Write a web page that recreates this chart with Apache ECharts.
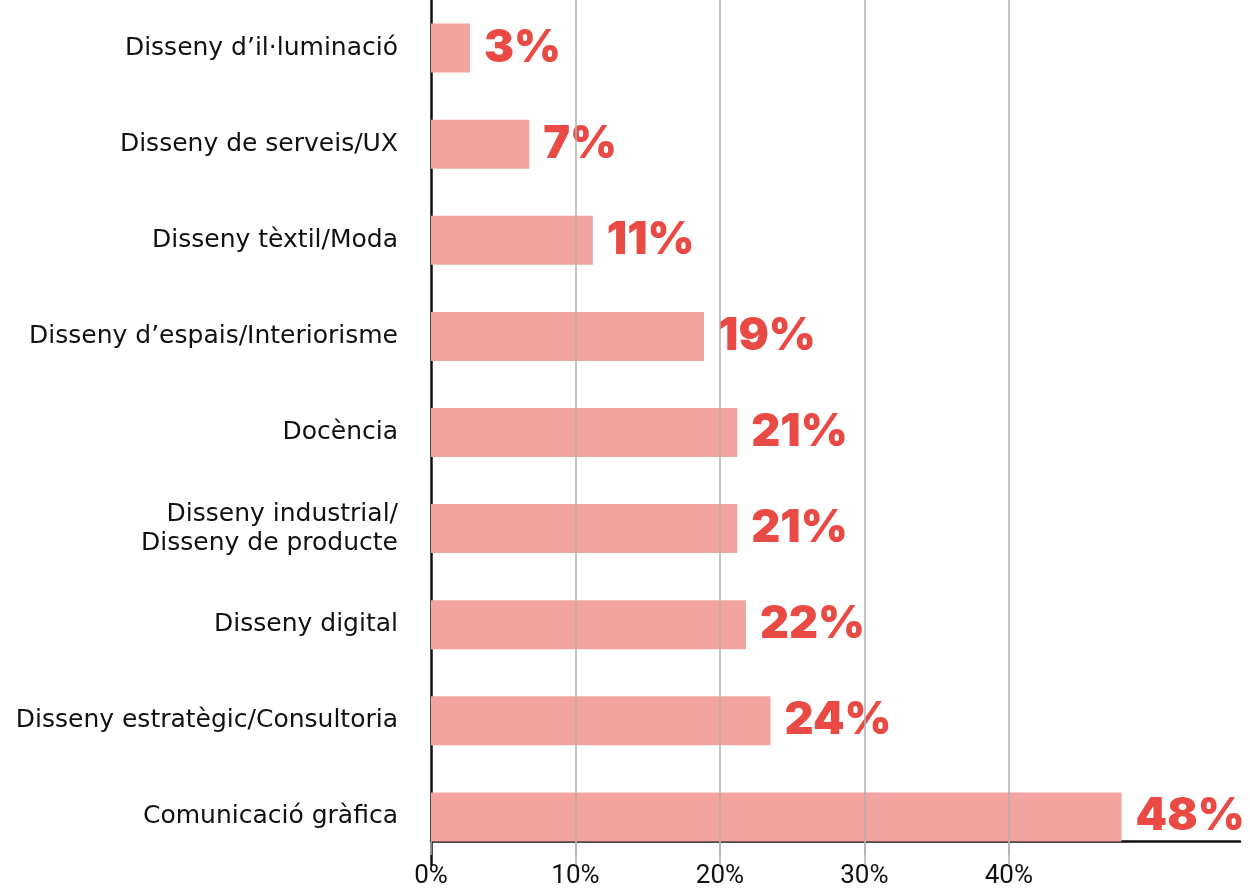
<!DOCTYPE html>
<html>
<head>
<meta charset="utf-8">
<script src="https://cdn.jsdelivr.net/npm/echarts@6/dist/echarts.min.js"></script>
<style>
   html, body { margin: 0; padding: 0; background: #ffffff; }
   #chart { width: 1250px; height: 890px; }
</style>
</head>
<body>
<div id="chart"></div>
<script>

// categories, top to bottom
const categories = [
   'Disseny d\u2019il\u00b7luminaci\u00f3',
   'Disseny de serveis/UX',
   'Disseny t\u00e8xtil/Moda',
   'Disseny d\u2019espais/Interiorisme',
   'Doc\u00e8ncia',
   'Disseny industrial/\nDisseny de producte',
   'Disseny digital',
   'Disseny estrat\u00e8gic/Consultoria',
   'Comunicaci\u00f3 gr\u00e0fica'
];

// bar lengths (percent)
const values = [2.7, 6.8, 11.2, 18.9, 21.2, 21.2, 21.8, 23.5, 47.8];

// rounded labels as printed
const valueLabels = ['3%', '7%', '11%', '19%', '21%', '21%', '22%', '24%', '48%'];

// x ticks shown
const xTicks = [0, 10, 20, 30, 40];
const gridTicks = [10, 20, 30, 40];

const barColor = '#f3a4a0';
const labelColor = '#e94a43';

const chart = echarts.init(document.getElementById('chart'));

const option =
{
   animation: false,
   grid:
   {
      left: 431,
      right: 10,
      top: 0,
      height: 865,
      containLabel: false
   },
   xAxis:
   {
      type: 'value',
      min: 0,
      max: 56,
      interval: 10,
      offset: -24,
      axisLine: { show: true, lineStyle: { color: '#111111', width: 2.5 } },
      axisTick:
      {
         show: true,
         customValues: xTicks,
         length: 14,
         lineStyle: { color: '#b0b0b0', width: 1.5 }
      },
      axisLabel:
      {
         customValues: xTicks,
         formatter: (v) => v + '%',
         color: '#111111',
         fontFamily: 'Roboto',
         fontSize: 26,
         margin: 22
      },
      splitLine: { show: false }
   },
   yAxis:
   {
      type: 'category',
      data: categories,
      inverse: true,
      axisLine: { show: true, lineStyle: { color: '#111111', width: 2.5 } },
      axisTick: { show: false },
      axisLabel:
      {
         color: '#111111',
         fontFamily: 'DejaVu Sans',
         fontSize: 25,
         lineHeight: 29,
         margin: 33,
         padding: [4, 0, 0, 0],
         align: 'right'
      }
   },
   series:
   [
      {
         type: 'bar',
         data: values,
         barWidth: 49,
         itemStyle: { color: barColor },
         label:
         {
            show: true,
            position: 'right',
            distance: 14,
            formatter: (p) => valueLabels[p.dataIndex],
            color: labelColor,
            fontFamily: 'Inter',
            fontWeight: 900,
            fontSize: 45
         },
         markLine:
         {
            silent: true,
            symbol: 'none',
            label: { show: false },
            lineStyle: { color: '#b0b0b0', type: 'solid', width: 1.5 },
            data: gridTicks.map((t) => ({ xAxis: t }))
         }
      }
   ]
};

chart.setOption(option);

</script>
</body>
</html>
